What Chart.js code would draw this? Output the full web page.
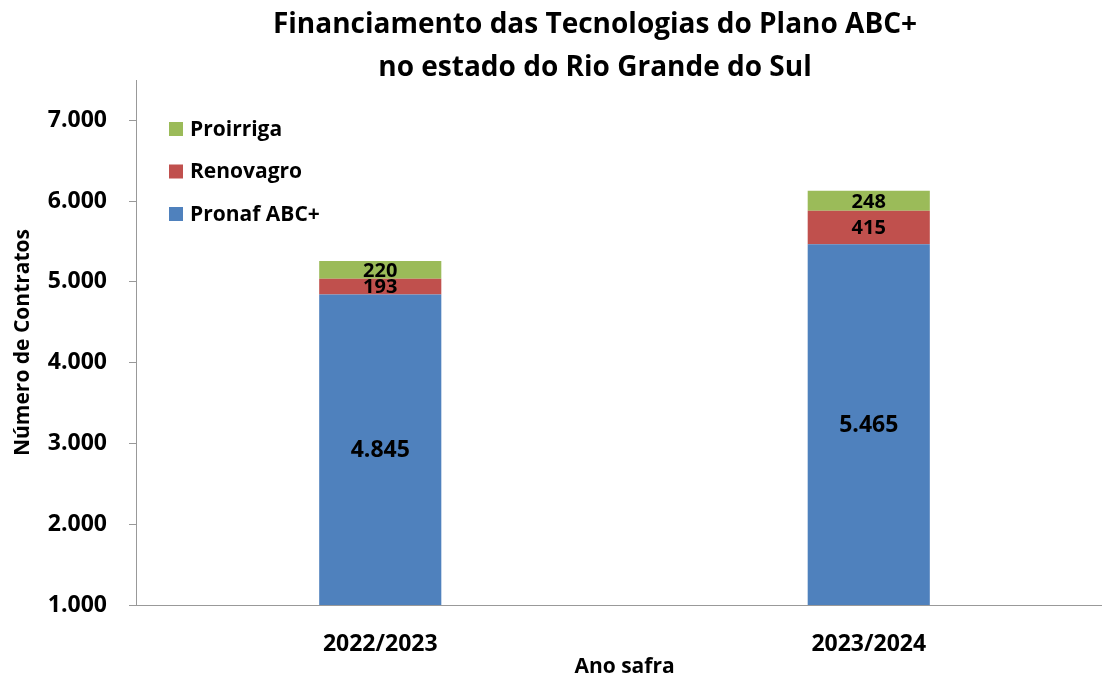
<!DOCTYPE html>
<html>
<head>
    <title>Financiamento das Tecnologias do Plano ABC+</title>
    <script src="https://cdn.jsdelivr.net/npm/chart.js"></script>
    <style>
        html, body { margin: 0; padding: 0; background: #fff; overflow: hidden; }
        /* a little wider than the window: the plot runs off the right edge like the original */
        #wrap { width: 1113px; height: 675px; position: relative; }
    </style>
</head>
<body>
    <div id="wrap"><canvas id="chart"></canvas></div>
    <script>
        // data
        const safras = ['2022/2023', '2023/2024'];
        const pronaf = [4845, 5465];
        const renovagro = [193, 415];
        const proirriga = [220, 248];
        const yTicks = [1000, 2000, 3000, 4000, 5000, 6000, 7000];
        const titleLines = ['Financiamento das Tecnologias do Plano ABC+', 'no estado do Rio Grande do Sul'];

        const FONT = '"Open Sans", "Noto Sans", sans-serif';
        const fmt = v => v.toLocaleString('pt-BR');

        // title, legend and segment labels drawn on top of the chart
        const extras = {
            id: 'extras',
            afterDatasetsDraw(chart) {
                const ctx = chart.ctx;
                const area = chart.chartArea;
                ctx.save();
                ctx.fillStyle = '#000';
                ctx.textAlign = 'center';
                ctx.textBaseline = 'middle';

                chart.data.datasets.forEach((ds, i) => {
                    const meta = chart.getDatasetMeta(i);
                    meta.data.forEach((bar, j) => {
                        const big = i === 0;
                        const base = Math.min(bar.base, area.bottom);
                        ctx.font = (big ? 'bold 23px ' : 'bold 20px ') + FONT;
                        ctx.fillText(fmt(ds.data[j]), bar.x, (bar.y + base) / 2 + 1);
                    });
                });

                // title
                ctx.font = 'bold 28px ' + FONT;
                ctx.fillText(titleLines[0], 595, 25);
                ctx.fillText(titleLines[1], 595, 68);

                // legend (reversed order, inside plot)
                ctx.textAlign = 'left';
                ctx.font = 'bold 21px ' + FONT;
                [2, 1, 0].forEach((di, k) => {
                    const ds = chart.data.datasets[di];
                    const y = 129 + k * 42.5;
                    ctx.fillStyle = ds.backgroundColor;
                    ctx.fillRect(169, y - 7, 14, 14);
                    ctx.fillStyle = '#000';
                    ctx.fillText(ds.label, 190, y + 1);
                });
                ctx.restore();
            }
        };

        new Chart(document.getElementById('chart'), {
            type: 'bar',
            data: {
                labels: safras,
                datasets: [
                    { label: 'Pronaf ABC+', data: pronaf, backgroundColor: '#4F81BD' },
                    { label: 'Renovagro', data: renovagro, backgroundColor: '#C0504D' },
                    { label: 'Proirriga', data: proirriga, backgroundColor: '#9BBB59' }
                ]
            },
            options: {
                responsive: true,
                maintainAspectRatio: false,
                animation: false,
                layout: { padding: { top: 80, right: 0, left: 0, bottom: 0 } },
                datasets: {
                    bar: { categoryPercentage: 1, barPercentage: 0.25, borderWidth: 0 }
                },
                plugins: {
                    legend: { display: false },
                    title: { display: false },
                    tooltip: { enabled: false }
                },
                scales: {
                    x: {
                        stacked: true,
                        afterFit: s => { s.height = 70; },
                        grid: { display: false },
                        border: { display: true, color: '#999', width: 1 },
                        ticks: { color: '#000', padding: 18, font: { family: FONT, size: 23, weight: 'bold' } },
                        title: {
                            display: true, text: 'Ano safra', color: '#000',
                            padding: { top: 0, bottom: 0 },
                            font: { family: FONT, size: 21, weight: 'bold', lineHeight: 0.75 }
                        }
                    },
                    y: {
                        stacked: true,
                        min: 1000,
                        max: 7500,
                        afterFit: s => { s.width = 136; },
                        afterBuildTicks: s => { s.ticks = yTicks.map(v => ({ value: v })); },
                        grid: { drawOnChartArea: false, drawTicks: true, tickLength: 7, color: '#999' },
                        border: { display: true, color: '#999', width: 1 },
                        ticks: {
                            autoSkip: false, color: '#000', padding: 22,
                            font: { family: FONT, size: 23, weight: 'bold' },
                            callback: v => fmt(v)
                        },
                        title: {
                            display: true, text: 'Número de Contratos', color: '#000',
                            padding: { top: 10, bottom: 0 },
                            font: { family: FONT, size: 21, weight: 'bold' }
                        }
                    }
                }
            },
            plugins: [extras]
        });
    </script>
</body>
</html>
